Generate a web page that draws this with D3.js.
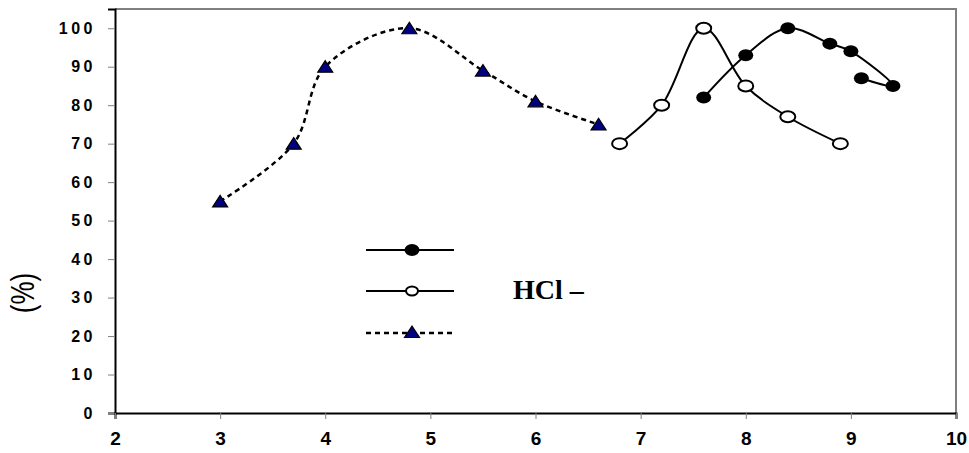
<!DOCTYPE html>
<html>
<head>
<meta charset="utf-8">
<script src="https://cdn.jsdelivr.net/npm/d3@7"></script>
<style>
  body { margin: 0; background: #fff; }
  svg { display: block; }
</style>
</head>
<body>
<svg id="chart" width="969" height="453"></svg>
<script>
// x values (pH) and responses (%)
const filledX = [7.6, 8.0, 8.4, 8.8, 9.0, 9.4, 9.1];
const filledY = [82, 93, 100, 96, 94, 85, 87];
const openX = [6.8, 7.2, 7.6, 8.0, 8.4, 8.9];
const openY = [70, 80, 100, 85, 77, 70];
const triX = [3, 3.7, 4, 4.8, 5.5, 6, 6.6];
const triY = [55, 70, 90, 100, 89, 81, 75];
const xTicks = [2, 3, 4, 5, 6, 7, 8, 9, 10];
const yTicks = [0, 10, 20, 30, 40, 50, 60, 70, 80, 90, 100];
const legendText = 'HCl \u2013';

const svg = d3.select('#chart');
const plotLeft = 115, plotRight = 956, plotTop = 9, plotBottom = 413;

const xScale = d3.scaleLinear().domain([2, 10]).range([plotLeft, plotRight]);
const yScale = d3.scaleLinear().domain([0, 105]).range([plotBottom, plotTop]);

// plot area border (grey top / right)
svg.append('path')
  .attr('d', `M${plotLeft},${plotTop}H${plotRight}V${plotBottom}`)
  .attr('fill', 'none')
  .attr('stroke', '#808080')
  .attr('stroke-width', 2);

const yAxis = svg.append('g')
  .attr('transform', `translate(${plotLeft},0)`)
  .call(d3.axisLeft(yScale).tickValues(yTicks).tickSize(7).tickPadding(12));
yAxis.select('.domain').attr('stroke', '#000').attr('stroke-width', 2);
yAxis.selectAll('.tick line').attr('stroke', '#808080');
yAxis.selectAll('text')
  .style('font-family', '"Liberation Sans", Arial, sans-serif')
  .style('font-weight', 'bold')
  .style('font-size', '16px')
  .style('letter-spacing', '3.5px')
  .attr('fill', '#000');

const xAxis = svg.append('g')
  .attr('transform', `translate(0,${plotBottom})`)
  .call(d3.axisBottom(xScale).tickValues(xTicks).tickSize(6).tickPadding(13));
xAxis.select('.domain').attr('stroke', '#000').attr('stroke-width', 2);
xAxis.selectAll('.tick line').attr('stroke', '#808080');
xAxis.selectAll('text')
  .style('font-family', '"Liberation Sans", Arial, sans-serif')
  .style('font-weight', 'bold')
  .style('font-size', '19px')
  .attr('fill', '#000');

// y axis title
svg.append('text')
  .attr('transform', 'translate(34,293) scale(1.25,1) rotate(-90)')
  .attr('text-anchor', 'middle')
  .style('font-family', '"Liberation Sans", Arial, sans-serif')
  .style('font-size', '26px')
  .text('(%)');

const line = d3.line()
  .x((d) => xScale(d[0]))
  .y((d) => yScale(d[1]))
  .curve(d3.curveCatmullRom.alpha(0.5));

const triData = triX.map((x, i) => [x, triY[i]]);
const openData = openX.map((x, i) => [x, openY[i]]);
const filledData = filledX.map((x, i) => [x, filledY[i]]);

svg.append('path')
  .attr('d', line(triData))
  .attr('fill', 'none')
  .attr('stroke', '#000')
  .attr('stroke-width', 2.5)
  .attr('stroke-dasharray', '5,4');

svg.append('path')
  .attr('d', line(openData))
  .attr('fill', 'none')
  .attr('stroke', '#000')
  .attr('stroke-width', 2);

svg.append('path')
  .attr('d', line(filledData))
  .attr('fill', 'none')
  .attr('stroke', '#000')
  .attr('stroke-width', 2);

const triPath = 'M0,-6L7.5,5.5L-7.5,5.5Z';

svg.selectAll('.tri')
  .data(triData)
  .enter()
  .append('path')
  .attr('d', triPath)
  .attr('transform', (d) => `translate(${xScale(d[0])},${yScale(d[1])})`)
  .attr('fill', '#000080')
  .attr('stroke', '#000')
  .attr('stroke-width', 1.2);

svg.selectAll('.open')
  .data(openData)
  .enter()
  .append('ellipse')
  .attr('cx', (d) => xScale(d[0]))
  .attr('cy', (d) => yScale(d[1]))
  .attr('rx', 7.5)
  .attr('ry', 5.5)
  .attr('fill', '#fff')
  .attr('stroke', '#000')
  .attr('stroke-width', 2);

svg.selectAll('.filled')
  .data(filledData)
  .enter()
  .append('ellipse')
  .attr('cx', (d) => xScale(d[0]))
  .attr('cy', (d) => yScale(d[1]))
  .attr('rx', 7.5)
  .attr('ry', 6)
  .attr('fill', '#000');

// legend
const legend = svg.append('g');
const lx0 = 366, lx1 = 454, lm = 412;

legend.append('line')
  .attr('x1', lx0).attr('x2', lx1).attr('y1', 250).attr('y2', 250)
  .attr('stroke', '#000').attr('stroke-width', 2);
legend.append('ellipse')
  .attr('cx', lm).attr('cy', 250).attr('rx', 7.5).attr('ry', 6)
  .attr('fill', '#000');

legend.append('line')
  .attr('x1', lx0).attr('x2', lx1).attr('y1', 291).attr('y2', 291)
  .attr('stroke', '#000').attr('stroke-width', 2);
legend.append('ellipse')
  .attr('cx', lm).attr('cy', 291).attr('rx', 6).attr('ry', 4.5)
  .attr('fill', '#fff').attr('stroke', '#000').attr('stroke-width', 2);

legend.append('line')
  .attr('x1', lx0).attr('x2', lx1).attr('y1', 333).attr('y2', 333)
  .attr('stroke', '#000').attr('stroke-width', 2.5)
  .attr('stroke-dasharray', '5,4');
legend.append('path')
  .attr('d', triPath)
  .attr('transform', `translate(${lm},332)`)
  .attr('fill', '#000080')
  .attr('stroke', '#000')
  .attr('stroke-width', 1.2);

legend.append('text')
  .attr('x', 513)
  .attr('y', 299)
  .style('font-family', '"Liberation Serif", "Times New Roman", serif')
  .style('font-weight', 'bold')
  .style('font-size', '28px')
  .text(legendText);
</script>
</body>
</html>
